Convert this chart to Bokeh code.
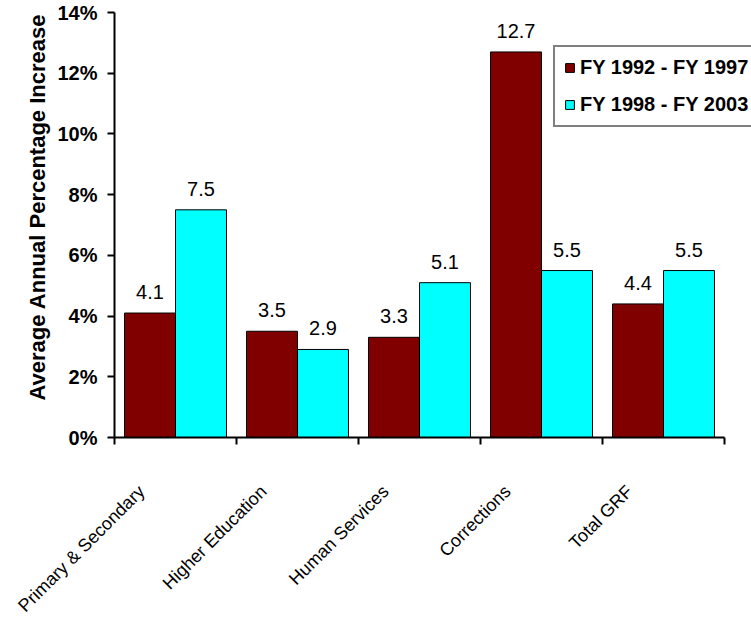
import math
from bokeh.plotting import figure
from bokeh.models import (ColumnDataSource, Range1d, FixedTicker, PrintfTickFormatter,
                          LinearAxis, Legend, LegendItem, LabelSet, Label)
from bokeh.core.properties import value
from bokeh.embed import file_html
from bokeh.resources import INLINE

# Average annual percentage increase in GRF spending, by program area
categories = ["Primary & Secondary", "Higher Education", "Human Services",
              "Corrections", "Total GRF"]
fy92_97 = [4.1, 3.5, 3.3, 12.7, 4.4]
fy98_03 = [7.5, 2.9, 5.1, 5.5, 5.5]
series_names = ["FY 1992 - FY 1997", "FY 1998 - FY 2003"]
y_ticks = [0, 2, 4, 6, 8, 10, 12, 14]

FONT = "Liberation Sans"
MAROON = "#800000"
CYAN = "#00FFFF"
BAR_W = 0.418

W, H = 751, 629
# pixel box of the value area inside the page
LEFT, RIGHT, TOP, BOTTOM = 114, 724, 12, 437
n = len(categories)
y_max = y_ticks[-1]
px_x = (RIGHT - LEFT) / n
px_y = (BOTTOM - TOP) / y_max

# the frame fills the whole page; axes sit at fixed data positions inside it
x_range = Range1d(-LEFT / px_x, n + (W - RIGHT) / px_x)
y_range = Range1d(-(H - BOTTOM) / px_y, y_max + TOP / px_y)

idx = list(range(n))
src_a = ColumnDataSource(dict(
    x=[i + 0.5 - BAR_W / 2 for i in idx], top=fy92_97,
    txt=[f"{v:.1f}" for v in fy92_97]))
src_b = ColumnDataSource(dict(
    x=[i + 0.5 + BAR_W / 2 for i in idx], top=fy98_03,
    txt=[f"{v:.1f}" for v in fy98_03]))
src_cat = ColumnDataSource(dict(x=[i + 0.5 for i in idx], y=[0] * n,
                                name=categories))

p = figure(width=W, height=H, output_backend="svg", toolbar_location=None,
           x_range=x_range, y_range=y_range,
           x_axis_type=None, y_axis_type=None,
           min_border_left=0, min_border_right=0,
           min_border_top=0, min_border_bottom=0)
p.outline_line_color = None
p.xgrid.visible = False
p.ygrid.visible = False
p.background_fill_color = "white"
p.border_fill_color = "white"

# value axis
yax = LinearAxis(ticker=FixedTicker(ticks=y_ticks),
                 formatter=PrintfTickFormatter(format="%d%%"),
                 fixed_location=0, bounds=(0, y_max))
yax.axis_line_width = 2
yax.major_tick_line_width = 2
yax.major_tick_out = 7
yax.major_tick_in = 0
yax.minor_tick_line_color = None
yax.major_label_standoff = 10
yax.major_label_text_font = FONT
yax.major_label_text_font_style = "bold"
yax.major_label_text_font_size = "20px"
yax.major_label_text_color = "black"
p.add_layout(yax, "left")

# category axis: ticks at group boundaries, names drawn separately
xax = LinearAxis(ticker=FixedTicker(ticks=list(range(n + 1))),
                 major_label_overrides={i: "" for i in range(n + 1)},
                 fixed_location=0, bounds=(0, n))
xax.axis_line_width = 2
xax.major_tick_line_width = 2
xax.major_tick_out = 7
xax.major_tick_in = 0
xax.minor_tick_line_color = None
p.add_layout(xax, "below")

r_a = p.vbar(x="x", top="top", width=BAR_W, bottom=0, source=src_a,
             fill_color=MAROON, line_color="black", line_width=1)
r_b = p.vbar(x="x", top="top", width=BAR_W, bottom=0, source=src_b,
             fill_color=CYAN, line_color="black", line_width=1)

for src in (src_a, src_b):
    p.add_layout(LabelSet(x="x", y="top", text="txt", source=src,
                          text_align="center", text_baseline="alphabetic",
                          y_offset=14, text_font=value(FONT),
                          text_font_size="20px", text_color="black"))

# slanted category names under the axis
p.add_layout(LabelSet(x="x", y="y", text="name", source=src_cat,
                      angle=math.pi / 4, text_align="right", text_baseline="middle",
                      x_offset=-34, y_offset=-51, text_font=value(FONT),
                      text_font_size="18px", text_color="black"))

# value axis title
p.add_layout(Label(x=37, y=H - 400, x_units="screen", y_units="screen",
                   text="Average Annual Percentage Increase", angle=math.pi / 2,
                   text_align="left", text_baseline="alphabetic",
                   text_font=FONT, text_font_style="bold", text_font_size="22px",
                   text_color="black"))

legend = Legend(items=[LegendItem(label=series_names[0], renderers=[r_a]),
                       LegendItem(label=series_names[1], renderers=[r_b])],
                location=(553, H - 127))
legend.border_line_color = "black"
legend.border_line_width = 2
legend.background_fill_color = "white"
legend.background_fill_alpha = 1
legend.label_text_font = FONT
legend.label_text_font_style = "bold"
legend.label_text_font_size = "20px"
legend.label_text_color = "black"
legend.glyph_width = 11
legend.glyph_height = 11
legend.label_standoff = 5
legend.padding = 9
legend.spacing = 14
legend.margin = 0
p.add_layout(legend, "center")

open("out.html", "w").write(file_html(p, INLINE))
